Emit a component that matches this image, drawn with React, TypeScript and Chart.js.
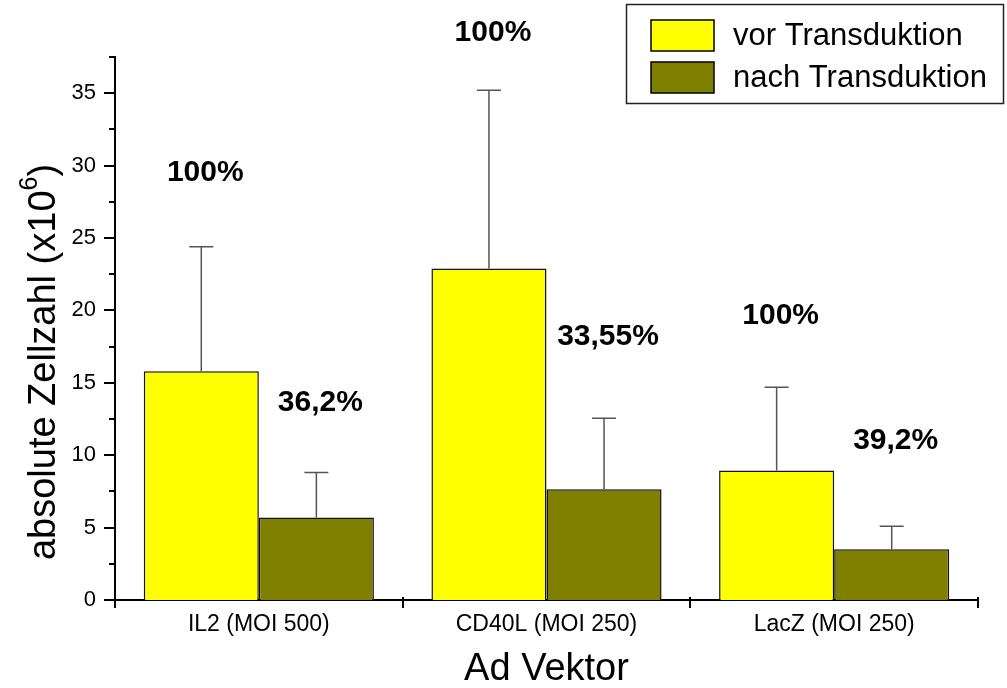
import React, { useEffect, useRef } from "react";
import { Chart, registerables } from "chart.js";

Chart.register(...registerables);

const categories = ["IL2 (MOI 500)", "CD40L (MOI 250)", "LacZ (MOI 250)"];
const seriesNames = ["vor Transduktion", "nach Transduktion"];
const vorValues = [15.8, 22.9, 8.95];
const nachValues = [5.7, 7.65, 3.5];
const vorErrorTop = [24.4, 35.2, 14.7];
const nachErrorTop = [8.8, 12.55, 5.1];
const vorLabels = ["100%", "100%", "100%"];
const nachLabels = ["36,2%", "33,55%", "39,2%"];
const vorLabelValue = [29.5, 39.2, 19.6];
const nachLabelValue = [13.6, 18.2, 11.0];
const yMajorTicks = [0, 5, 10, 15, 20, 25, 30, 35];
const yMinorTicks = [2.5, 7.5, 12.5, 17.5, 22.5, 27.5, 32.5, 37.5];
const xTitle = "Ad Vektor";
const yTitleMain = "absolute Zellzahl (x10";
const yTitleSup = "6";
const yTitleEnd = ")";

const YELLOW = "#ffff00";
const OLIVE = "#808000";
const FONT = 'Arial, "Liberation Sans", sans-serif';

const customPlugin = {
  id: "customDraw",
  afterDatasetsDraw(chart: any) {
    const ctx = chart.ctx;
    const y = chart.scales.y;
    const errs = [vorErrorTop, nachErrorTop];
    ctx.save();
    ctx.strokeStyle = "#555555";
    ctx.lineWidth = 1.5;
    errs.forEach((arr, di) => {
      const meta = chart.getDatasetMeta(di);
      meta.data.forEach((bar: any, i: number) => {
        const top = y.getPixelForValue(arr[i]);
        ctx.beginPath();
        ctx.moveTo(bar.x, bar.y);
        ctx.lineTo(bar.x, top);
        ctx.moveTo(bar.x - 12, top);
        ctx.lineTo(bar.x + 12, top);
        ctx.stroke();
      });
    });
    ctx.restore();
  },
  afterDraw(chart: any) {
    const ctx = chart.ctx;
    const y = chart.scales.y;
    const area = chart.chartArea;
    ctx.save();
    // y ticks
    ctx.strokeStyle = "#000";
    ctx.lineWidth = 2;
    ctx.beginPath();
    yMajorTicks.forEach((v) => {
      const py = Math.round(y.getPixelForValue(v));
      ctx.moveTo(area.left - 11, py);
      ctx.lineTo(area.left, py);
    });
    yMinorTicks.forEach((v) => {
      const py = Math.round(y.getPixelForValue(v));
      ctx.moveTo(area.left - 6, py);
      ctx.lineTo(area.left, py);
    });
    // x ticks at category boundaries
    const n = categories.length;
    const w = (area.right - area.left) / n;
    for (let i = 0; i <= n; i++) {
      const px = Math.round(area.left + i * w);
      ctx.moveTo(px, area.bottom - 3);
      ctx.lineTo(px, area.bottom + 8);
    }
    ctx.stroke();

    // annotations
    ctx.fillStyle = "#000";
    ctx.font = `bold 30px ${FONT}`;
    ctx.textAlign = "center";
    ctx.textBaseline = "middle";
    const labelSets = [
      [vorLabels, vorLabelValue],
      [nachLabels, nachLabelValue],
    ] as const;
    labelSets.forEach(([labels, vals], di) => {
      const meta = chart.getDatasetMeta(di);
      meta.data.forEach((bar: any, i: number) => {
        ctx.fillText(labels[i], bar.x + 4, y.getPixelForValue(vals[i]));
      });
    });

    // x title
    ctx.font = `38px ${FONT}`;
    ctx.fillText(xTitle, (area.left + area.right) / 2, 670);

    // y title with superscript
    ctx.save();
    ctx.translate(45, 362);
    ctx.rotate(-Math.PI / 2);
    ctx.textAlign = "left";
    ctx.textBaseline = "middle";
    const mainFont = `38px ${FONT}`;
    const supFont = `25px ${FONT}`;
    ctx.font = mainFont;
    const w1 = ctx.measureText(yTitleMain).width;
    const w3 = ctx.measureText(yTitleEnd).width;
    ctx.font = supFont;
    const w2 = ctx.measureText(yTitleSup).width;
    const total = w1 + w2 + w3;
    let cx = -total / 2;
    ctx.font = mainFont;
    ctx.fillText(yTitleMain, cx, 0);
    cx += w1;
    ctx.font = supFont;
    ctx.fillText(yTitleSup, cx, -15);
    cx += w2;
    ctx.font = mainFont;
    ctx.fillText(yTitleEnd, cx, 0);
    ctx.restore();

    // legend
    ctx.lineWidth = 1.5;
    ctx.strokeStyle = "#222";
    ctx.strokeRect(626.5, 4.5, 377, 99);
    const colors = [YELLOW, OLIVE];
    const rowsY = [20, 62];
    ctx.font = `31px ${FONT}`;
    ctx.textAlign = "left";
    ctx.textBaseline = "middle";
    seriesNames.forEach((name, i) => {
      ctx.fillStyle = colors[i];
      ctx.fillRect(651, rowsY[i], 63, 31);
      ctx.strokeStyle = "#000";
      ctx.strokeRect(651, rowsY[i], 63, 31);
      ctx.fillStyle = "#000";
      ctx.fillText(name, 733, rowsY[i] + 16);
    });
    ctx.restore();
  },
};

export default function App() {
  const ref = useRef<HTMLCanvasElement | null>(null);
  useEffect(() => {
    if (!ref.current) return;
    const chart = new Chart(ref.current, {
      type: "bar",
      data: {
        labels: categories,
        datasets: [
          {
            label: seriesNames[0],
            data: vorValues,
            backgroundColor: YELLOW,
            borderColor: "#111",
            borderWidth: 1.5,
            categoryPercentage: 0.8,
            barPercentage: 1.0,
          },
          {
            label: seriesNames[1],
            data: nachValues,
            backgroundColor: OLIVE,
            borderColor: "#111",
            borderWidth: 1.5,
            categoryPercentage: 0.8,
            barPercentage: 1.0,
          },
        ],
      },
      options: {
        animation: false,
        responsive: false,
        layout: { padding: { left: 0, top: 57, right: 29, bottom: 0 } },
        plugins: { legend: { display: false }, tooltip: { enabled: false } },
        scales: {
          x: {
            grid: { display: false, drawTicks: false },
            border: { display: true, color: "#000", width: 2 },
            ticks: {
              color: "#000",
              font: { family: FONT, size: 23 },
              padding: 11,
              maxRotation: 0,
            },
            afterFit: (s: any) => {
              s.height = 88;
            },
          },
          y: {
            min: 0,
            max: 37.5,
            grid: { display: false, drawTicks: false },
            border: { display: true, color: "#000", width: 2 },
            ticks: {
              stepSize: 5,
              color: "#000",
              font: { family: FONT, size: 22 },
              padding: 19,
            },
            afterBuildTicks: (s: any) => {
              s.ticks = s.ticks.filter((t: any) => t.value <= 35);
            },
            afterFit: (s: any) => {
              s.width = 115;
            },
          },
        },
      },
      plugins: [customPlugin],
    });
    return () => chart.destroy();
  }, []);
  return (
    <div style={{ position: "absolute", left: 0, top: 0, width: 1007, height: 688, background: "#fff" }}>
      <canvas ref={ref} width={1007} height={688} />
    </div>
  );
}
